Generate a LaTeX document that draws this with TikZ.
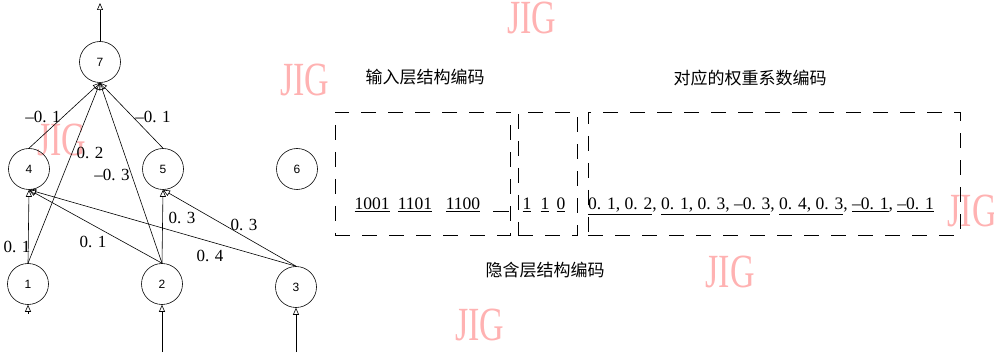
\documentclass[tikz,border=0pt]{standalone}
\usepackage{fontspec}
\usepackage{graphicx}
\setmainfont{Liberation Serif}
\setsansfont{Liberation Sans}
\newfontfamily\cjk{Noto Sans CJK SC}
\usetikzlibrary{arrows.meta}
\newcommand{\wmark}{\scalebox{1}[1.4]{JIG}}
\begin{document}
\begin{tikzpicture}[x=1pt,y=-1pt,
  neuron/.style={circle,draw,line width=0.6pt,minimum size=41pt,inner sep=0pt,font=\sffamily\fontsize{12}{12}\selectfont},
  conn/.style={line width=0.6pt,-{Triangle[open,length=7pt,width=6pt]}},
  wlabel/.style={font=\fontsize{17}{17}\selectfont,inner sep=0pt},
  code/.style={font=\fontsize{17.5}{17.5}\selectfont,inner sep=0pt,anchor=base},
  capt/.style={font=\cjk\fontsize{17}{17}\selectfont,inner sep=0pt},
  dbox/.style={draw,line width=0.6pt,dash pattern=on 15pt off 12pt,inner sep=0pt},
  wm/.style={text=red!30,font=\fontsize{34}{34}\selectfont,inner sep=0pt}
]
\useasboundingbox (0,0) rectangle (994,358);
% watermarks
\node[wm] (wm1) at (532,18) {\wmark};
\node[wm] (wm2) at (305,80) {\wmark};
\node[wm] (wm3) at (62,140) {\wmark};
\node[wm] (wm4) at (730,272) {\wmark};
\node[wm] (wm5) at (480,325) {\wmark};
\node[wm] (wm6) at (972,211) {\wmark};
% neurons
\node[neuron] (n7) at (100,62) {7};
\node[neuron] (n4) at (29,169) {4};
\node[neuron] (n5) at (163,169) {5};
\node[neuron] (n6) at (297,169) {6};
\node[neuron] (n1) at (28,284) {1};
\node[neuron] (n2) at (162,284) {2};
\node[neuron] (n3) at (296,287) {3};
\coordinate (o7) at (100,3);
\coordinate (i1) at (28,314);
\coordinate (i2) at (162,352);
\coordinate (i3) at (296,352);
% connectors
\draw[conn] (n7.north) -- (o7);
\draw[conn] (i1) -- (n1.south);
\draw[conn] (i2) -- (n2.south);
\draw[conn] (i3) -- (n3.south);
\draw[conn] (n1.north) -- (n4.south);
\draw[conn] (n1.north) -- (n7.south);
\draw[conn] (n2.north) -- (n7.south);
\draw[conn] (n2.north) -- (n4.south);
\draw[conn] (n2.north) -- (n5.south);
\draw[conn] (n3.north) -- (n4.south);
\draw[conn] (n3.north) -- (n5.south);
\draw[conn] (n4.north) -- (n7.south);
\draw[conn] (n5.north) -- (n7.south);
% weights
\node[wlabel] (w14) at (17,247) {0. 1};
\node[wlabel] (w17) at (90,153) {0. 2};
\node[wlabel] (w27) at (112,175) {--0. 3};
\node[wlabel] (w24) at (93,242) {0. 1};
\node[wlabel] (w25) at (182,218) {0. 3};
\node[wlabel] (w34) at (210,256) {0. 4};
\node[wlabel] (w35) at (244,225) {0. 3};
\node[wlabel] (w47) at (43,117) {--0. 1};
\node[wlabel] (w57) at (153,117) {--0. 1};
% coding boxes
\node[dbox,minimum width=175pt,minimum height=123pt] (boxA) at (422.5,173.5) {};
\node[dbox,minimum width=59pt,minimum height=123pt] (boxB) at (547.5,173.5) {};
\node[dbox,minimum width=372pt,minimum height=123pt] (boxC) at (774,173.5) {};
% codes
\node[code] (c1) at (372,210) {\underline{1001}};
\node[code] (c2) at (415,210) {\underline{1101}};
\node[code] (c3) at (463,210) {\underline{1100}};
\node[code] (c4) at (501,210) {\underline{\hspace{16pt}}};
\node[code] (c5) at (527,210) {\underline{1}};
\node[code] (c6) at (545,210) {\underline{1}};
\node[code] (c7) at (561,210) {\underline{0}};
\node[code,anchor=base west] (wt) at (588,210) {\underline{0. 1, 0. 2}, \underline{0. 1, 0. 3, --0. 3}, \underline{0. 4, 0. 3}, \underline{--0. 1}, \underline{--0. 1}};
% captions
\node[capt] (capA) at (425,77) {输入层结构编码};
\node[capt] (capC) at (750,78) {对应的权重系数编码};
\node[capt] (capB) at (545,270) {隐含层结构编码};
\end{tikzpicture}
\end{document}
